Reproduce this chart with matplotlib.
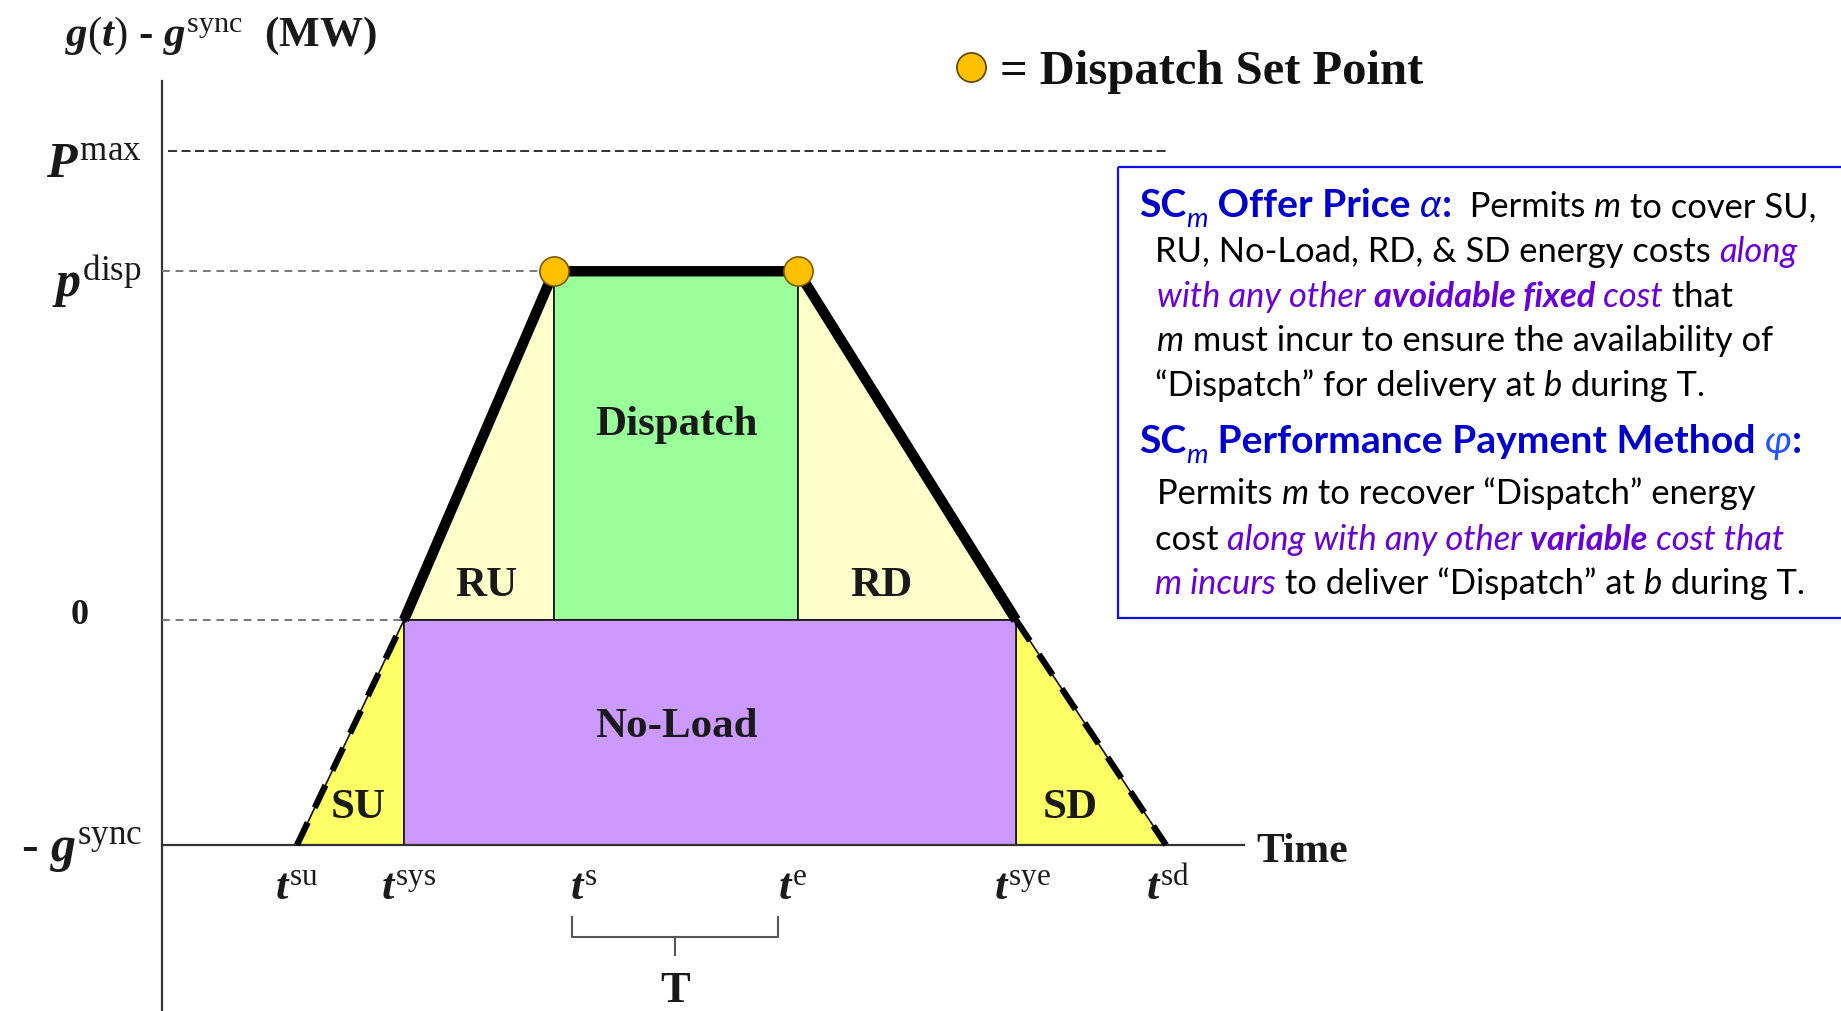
import matplotlib
matplotlib.use('Agg')
import matplotlib.pyplot as plt
from matplotlib.patches import Rectangle

# --- chart values -------------------------------------------------------
event_names = ['su', 'sys', 's', 'e', 'sye', 'sd']
event_times = [1.35, 2.42, 3.92, 6.36, 8.54, 10.04]   # time units (y-axis at 0)
g_sync = 30.0          # MW
p_disp = 46.5          # MW above sync level
p_max = 62.5           # MW
t_axis_end = 10.82
pmax_line_end = 10.06

region_names = ['SU', 'RU', 'Dispatch', 'RD', 'SD', 'No-Load']
region_colors = ['#FFFF66', '#FFFFCC', '#99FF99', '#FFFFCC', '#FFFF66', '#CC99FF']

y_labels = [r'$P^{\mathrm{max}}$', r'$p^{\mathrm{disp}}$', '0', r'- $g^{\mathrm{sync}}$']

W, H = 1841, 1012
PX_T = 100.0      # pixels per time unit
PX_P = 7.5        # pixels per MW
X0, Y0 = 162, 621  # pixel position of t=0 / p=0

plt.rcParams['mathtext.fontset'] = 'custom'
plt.rcParams['mathtext.rm'] = 'Liberation Serif'
plt.rcParams['mathtext.it'] = 'Liberation Serif:italic:bold'
plt.rcParams['mathtext.bf'] = 'Liberation Serif:bold'
SERIF = 'Liberation Serif'

fig = plt.figure(figsize=(W / 100, H / 100), dpi=100)
ax = fig.add_axes([0, 0, 1, 1])
ax.set_xlim(-X0 / PX_T, (W - X0) / PX_T)
ax.set_ylim(-(H - Y0) / PX_P, Y0 / PX_P)
ax.axis('off')

t_su, t_sys, t_s, t_e, t_sye, t_sd = event_times
g = -g_sync

# regions
shapes = {
    'SU': ([t_su, t_sys, t_sys], [g, 0, g]),
    'RU': ([t_sys, t_s, t_s], [0, p_disp, 0]),
    'Dispatch': ([t_s, t_e, t_e, t_s], [0, 0, p_disp, p_disp]),
    'RD': ([t_e, t_sye, t_e], [p_disp, 0, 0]),
    'SD': ([t_sye, t_sd, t_sye], [0, g, g]),
    'No-Load': ([t_sys, t_sye, t_sye, t_sys], [g, g, 0, 0]),
}
for name, col in zip(region_names, region_colors):
    xs, ys = shapes[name]
    ax.fill(xs, ys, facecolor=col, edgecolor='#111111', lw=1.2, zorder=1)

# axes lines
ax.plot([0, 0], [-(H - Y0) / PX_P, (Y0 - 82) / PX_P], color='#333333', lw=1.6, zorder=2)
ax.plot([0, t_axis_end], [g, g], color='#333333', lw=1.6, zorder=2)

# reference dashed lines
ax.plot([0.06, pmax_line_end], [p_max, p_max], color='#222222', lw=1.3,
        dashes=(5, 2.5), zorder=2)
ax.plot([0, t_s], [p_disp, p_disp], color='#777777', lw=1.4, dashes=(4, 3), zorder=2)
ax.plot([0, t_sys], [0, 0], color='#777777', lw=1.4, dashes=(4, 3), zorder=2)

# dispatch trajectory
ax.plot([t_sys, t_s, t_e, t_sye], [0, p_disp, p_disp, 0], color='black', lw=7.5,
        solid_joinstyle='miter', solid_capstyle='butt', zorder=3)
ax.plot([t_su, t_sys], [g, 0], color='black', lw=4.5, dashes=(4, 2.6), zorder=3)
ax.plot([t_sye, t_sd], [0, g], color='black', lw=4.5, dashes=(4, 2.6), zorder=3)
ax.plot([t_s, t_e], [p_disp, p_disp], 'o', ms=21, mfc='#FFC000', mec='#7a5a00',
        mew=1.2, zorder=4)

# region labels
lab_kw = dict(family=SERIF, weight='bold', fontsize=31, ha='center', va='center',
              color='#1a1a1a', zorder=5)
mid = (t_s + t_e) / 2
ax.text(mid, 26.1, 'Dispatch', **lab_kw)
ax.text(mid, -14.1, 'No-Load', **lab_kw)
ax.text(3.24, 4.6, 'RU', **lab_kw)
ax.text(7.19, 4.6, 'RD', **lab_kw)
ax.text(1.96, -24.9, 'SU', **lab_kw)
ax.text(9.08, -24.9, 'SD', **lab_kw)

# y labels
y_vals = [p_max, p_disp, 0, g]
y_nudge = [-1.8, -1.2, 0.8, -0.6]
for lab, yv, dy in zip(y_labels, y_vals, y_nudge):
    size = 26 if lab == '0' else 36
    ax.text(-0.2 if lab != '0' else -0.82, yv + dy, lab, family=SERIF, weight='bold',
            fontsize=size, ha='right' if lab != '0' else 'center', va='center',
            color='#1a1a1a')

# time labels
tick_nudge = [0.0, 0.05, 0.3, -0.05, 0.07, 0.02]
for name, tv, dx in zip(event_names, event_times, tick_nudge):
    ax.text(tv + dx, -35.5, r'$t^{\mathrm{%s}}$' % name, fontsize=32, ha='center',
            va='center', color='#1a1a1a')
ax.text(t_axis_end + 0.12, g - 0.8, 'Time', family=SERIF, weight='bold', fontsize=30,
        ha='left', va='center', color='#1a1a1a')

# T brace
bl, br = t_s + 0.18, t_e - 0.2
bc = (bl + br) / 2
ax.plot([bl, bl, br, br], [-39.6, -42.2, -42.2, -39.6], color='#555555', lw=1.5)
ax.plot([bc, bc], [-42.2, -44.6], color='#555555', lw=1.5)
ax.text(bc, -49.3, 'T', family=SERIF, weight='bold', fontsize=32, ha='center',
        va='center', color='#1a1a1a')

# --- overlay in pixel units for title, legend and text box ---------------
ov = fig.add_axes([0, 0, 1, 1])
ov.set_xlim(0, W)
ov.set_ylim(H, 0)
ov.axis('off')
ov.patch.set_alpha(0)

ov.text(65, 46, r'$g(t)$ - $g^{\mathrm{sync}}$  (MW)', family=SERIF, weight='bold',
        fontsize=31, ha='left', va='baseline', color='#1a1a1a')
ov.plot([971], [68], 'o', ms=21, mfc='#FFC000', mec='#5a4300', mew=1.2)
ov.text(1000, 84, '= Dispatch Set Point', family=SERIF, weight='bold', fontsize=35,
        ha='left', va='baseline', color='#111111')

ov.add_patch(Rectangle((1118, 168), 760, 451, fill=False, edgecolor='#1010EE', lw=1.6))

BLUE = '#0000CC'
PURP = '#6A00D8'
SANS = ['Lato', 'DejaVu Sans']
BODY = 24.8
HEAD = 28.2
styles = {
    'H': dict(color=BLUE, weight='bold', fontsize=HEAD),
    'Hs': dict(color=BLUE, style='italic', fontsize=HEAD * 0.7),
    'Hg': dict(color=BLUE, style='italic', fontsize=HEAD),
    'Hg2': dict(color='#2255FF', style='italic', fontsize=HEAD),
    'N': dict(color='black', fontsize=BODY),
    'I': dict(color='black', style='italic', fontsize=BODY),
    'P': dict(color=PURP, style='italic', fontsize=BODY),
    'PB': dict(color=PURP, style='italic', weight='bold', fontsize=BODY),
}

lines = [
    (1139, 217, [('SC', 'H'), ('m', 'Hs'), (' Offer Price ', 'H'), ('α', 'Hg'),
                 (':', 'H'), ('  Permits ', 'N'), ('m', 'I'), (' to cover SU,', 'N')]),
    (1155, 262, [('RU, No-Load, RD, & SD energy costs ', 'N'), ('along', 'P')]),
    (1157, 307, [('with any other ', 'P'), ('avoidable fixed', 'PB'), (' cost', 'P'),
                 (' that', 'N')]),
    (1157, 351, [('m', 'I'), (' must incur to ensure the availability of', 'N')]),
    (1155, 396, [('“Dispatch” for delivery at ', 'N'), ('b', 'I'), (' during T.', 'N')]),
    (1139, 453, [('SC', 'H'), ('m', 'Hs'), (' Performance Payment Method ', 'H'),
                 ('φ', 'Hg2'), (':', 'H')]),
    (1157, 504, [('Permits ', 'N'), ('m', 'I'), (' to recover “Dispatch” energy', 'N')]),
    (1155, 550, [('cost ', 'N'), ('along with any other ', 'P'), ('variable', 'PB'),
                 (' cost that', 'P')]),
    (1155, 594, [('m incurs', 'P'), (' to deliver “Dispatch” at ', 'N'), ('b', 'I'),
                 (' during T.', 'N')]),
]

renderer = fig.canvas.get_renderer()


def run_width(txt, props):
    a = ov.text(0, 0, 'x' + txt + 'x', family=SANS, **props)
    b = ov.text(0, 0, 'xx', family=SANS, **props)
    w = a.get_window_extent(renderer).width - b.get_window_extent(renderer).width
    a.remove()
    b.remove()
    return w


for x, y, runs in lines:
    for txt, key in runs:
        props = styles[key]
        dy = 10 if key == 'Hs' else 0
        ov.text(x, y + dy, txt, family=SANS, ha='left', va='baseline', **props)
        x += run_width(txt, props)

fig.savefig('out.png', dpi=100)
